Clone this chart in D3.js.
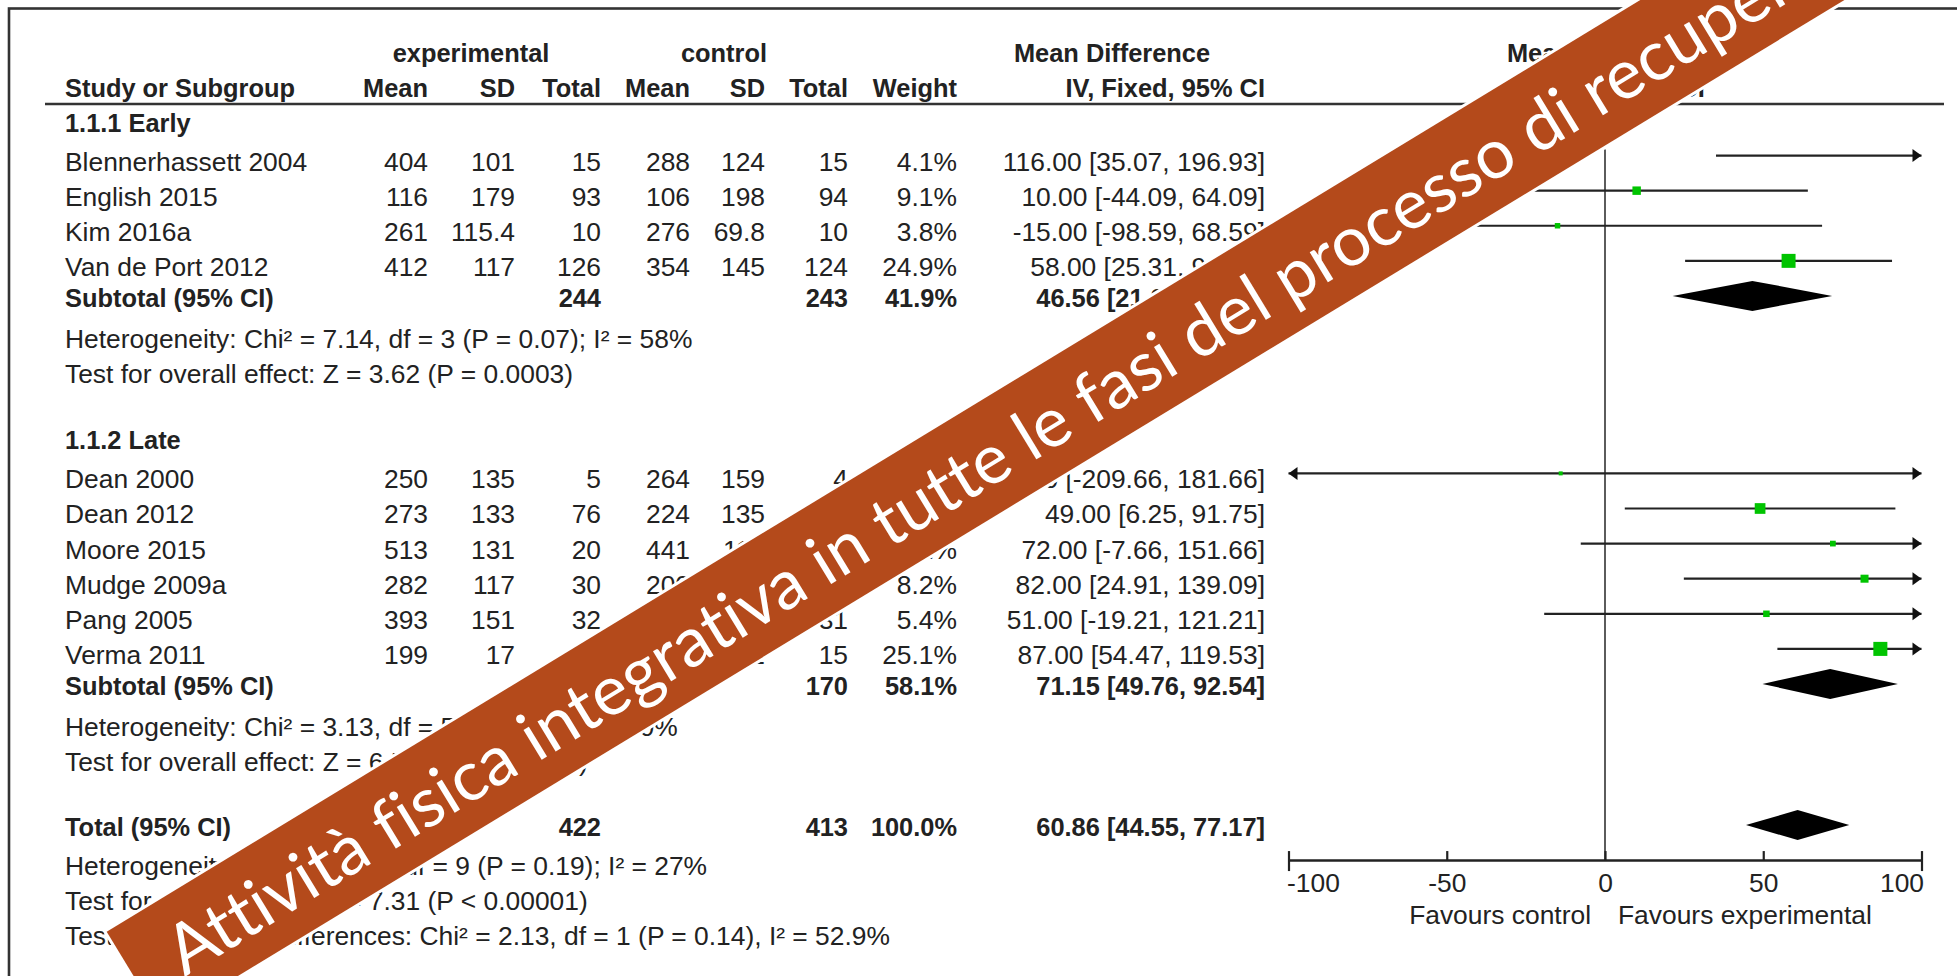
<!DOCTYPE html>
<html>
<head>
<meta charset="utf-8">
<script src="https://cdn.jsdelivr.net/npm/d3@7"></script>
<style>
  html, body { margin: 0; padding: 0; background: #fff; overflow: hidden; }
  svg { display: block; }
</style>
</head>
<body>
<svg id="chart" width="1957" height="976"></svg>
<script>
// ---- Subgroup 1.1.1 Early ----
const earlyStudy   = ["Blennerhassett 2004", "English 2015", "Kim 2016a", "Van de Port 2012"];
const earlyExpMean = [404, 116, 261, 412];
const earlyExpSD   = [101, 179, 115.4, 117];
const earlyExpN    = [15, 93, 10, 126];
const earlyCtlMean = [288, 106, 276, 354];
const earlyCtlSD   = [124, 198, 69.8, 145];
const earlyCtlN    = [15, 94, 10, 124];
const earlyWeight  = [4.1, 9.1, 3.8, 24.9];
const earlyMD      = [116.00, 10.00, -15.00, 58.00];
const earlyLow     = [35.07, -44.09, -98.59, 25.31];
const earlyHigh    = [196.93, 64.09, 68.59, 90.69];

// ---- Subgroup 1.1.2 Late ----
const lateStudy   = ["Dean 2000", "Dean 2012", "Moore 2015", "Mudge 2009a", "Pang 2005", "Verma 2011"];
const lateExpMean = [250, 273, 513, 282, 393, 199];
const lateExpSD   = [135, 133, 131, 117, 151, 17];
const lateExpN    = [5, 76, 20, 30, 32, 15];
const lateCtlMean = [264, 224, 441, 200, 342, 112];
const lateCtlSD   = [159, 135, 116, 105, 133, 62];
const lateCtlN    = [4, 75, 17, 28, 31, 15];
const lateWeight  = [0.7, 14.6, 4.2, 8.2, 5.4, 25.1];
const lateMD      = [-14.00, 49.00, 72.00, 82.00, 51.00, 87.00];
const lateLow     = [-209.66, 6.25, -7.66, 24.91, -19.21, 54.47];
const lateHigh    = [181.66, 91.75, 151.66, 139.09, 121.21, 119.53];

// ---- Subtotals ----
const subgroupTitle  = ["1.1.1 Early", "1.1.2 Late"];
const subtotalExpN   = [244, 178];
const subtotalCtlN   = [243, 170];
const subtotalWeight = [41.9, 58.1];
const subtotalMD     = [46.56, 71.15];
const subtotalLow    = [21.35, 49.76];
const subtotalHigh   = [71.77, 92.54];
const subgroupHet    = ["Heterogeneity: Chi\u00b2 = 7.14, df = 3 (P = 0.07); I\u00b2 = 58%",
                        "Heterogeneity: Chi\u00b2 = 3.13, df = 5 (P = 0.68); I\u00b2 = 0%"];
const subgroupTest   = ["Test for overall effect: Z = 3.62 (P = 0.0003)",
                        "Test for overall effect: Z = 6.52 (P < 0.00001)"];

// ---- Overall ----
const totalExpN   = [422];
const totalCtlN   = [413];
const totalWeight = [100.0];
const totalMD     = [60.86];
const totalLow    = [44.55];
const totalHigh   = [77.17];
const totalNotes  = ["Heterogeneity: Chi\u00b2 = 12.40, df = 9 (P = 0.19); I\u00b2 = 27%",
                     "Test for overall effect: Z = 7.31 (P < 0.00001)",
                     "Test for subgroup differences: Chi\u00b2 = 2.13, df = 1 (P = 0.14), I\u00b2 = 52.9%"];

// ---- Axis ----
const axisTicks    = [-100, -50, 0, 50, 100];
const favourLabels = ["Favours control", "Favours experimental"];
const bannerText   = "Attivit\u00e0 fisica integrativa in tutte le fasi del processo di recupero";

// ================= drawing =================
const svg = d3.select("#chart");
const FONT = "'Liberation Sans', Arial, Helvetica, sans-serif";
const INK = "#222";
const FS_REG = 26.4, FS_BOLD = 25.4;

// plain hyphen for negative numbers
const fmt2 = v => (v < 0 ? "-" : "") + Math.abs(v).toFixed(2);
const fmtW = w => w.toFixed(1) + "%";
const fmtCI = (m, lo, hi) => `${fmt2(m)} [${fmt2(lo)}, ${fmt2(hi)}]`;

// column right edges of the table
const col = { study: 65, expMean: 428, expSD: 515, expN: 601, ctlMean: 690, ctlSD: 765,
              ctlN: 848, weight: 957, md: 1265 };

function txt(g, x, y, s, anchor = "start", bold = false) {
  return g.append("text")
    .attr("x", x).attr("y", y)
    .attr("text-anchor", anchor)
    .attr("fill", INK)
    .style("font-family", FONT)
    .style("font-size", (bold ? FS_BOLD : FS_REG) + "px")
    .style("font-weight", bold ? "bold" : "normal")
    .text(s);
}

// frame (top and left edges visible)
svg.append("rect").attr("x", 9).attr("y", 8.5).attr("width", 2000).attr("height", 1000)
  .attr("fill", "none").attr("stroke", "#333").attr("stroke-width", 2.6);

// ---- build row sequence ----
const rows = [];
function addGroup(i, names, em, es, en, cm, cs, cn, w, md, lo, hi) {
  rows.push({ type: "group", label: subgroupTitle[i] });
  names.forEach((n, k) => rows.push({ type: "study", label: n,
    cells: [em[k], es[k], en[k], cm[k], cs[k], cn[k]], weight: w[k], md: md[k], lo: lo[k], hi: hi[k] }));
  rows.push({ type: "subtotal", label: "Subtotal (95% CI)", en: subtotalExpN[i], cn: subtotalCtlN[i],
    weight: subtotalWeight[i], md: subtotalMD[i], lo: subtotalLow[i], hi: subtotalHigh[i] });
  rows.push({ type: "note1", label: subgroupHet[i] });
  rows.push({ type: "note", label: subgroupTest[i] });
}
addGroup(0, earlyStudy, earlyExpMean, earlyExpSD, earlyExpN, earlyCtlMean, earlyCtlSD, earlyCtlN,
         earlyWeight, earlyMD, earlyLow, earlyHigh);
addGroup(1, lateStudy, lateExpMean, lateExpSD, lateExpN, lateCtlMean, lateCtlSD, lateCtlN,
         lateWeight, lateMD, lateLow, lateHigh);
rows.push({ type: "total", label: "Total (95% CI)", en: totalExpN[0], cn: totalCtlN[0],
  weight: totalWeight[0], md: totalMD[0], lo: totalLow[0], hi: totalHigh[0] });
totalNotes.forEach((s, k) => rows.push({ type: k === 0 ? "note1" : "note", label: s }));

// vertical spacing (in text lines) before each row type
function gap(prev, cur) {
  if (!prev) return 1.0;
  if (cur === "group") return 1.9;
  if (cur === "study") return prev === "group" ? 1.11 : 1.0;
  if (cur === "subtotal") return 0.885;
  if (cur === "note1") return prev === "total" ? 1.12 : 1.17;
  if (cur === "note") return 0.99;
  if (cur === "total") return 1.86;
  return 1;
}
let u = 0;
rows.forEach((r, i) => { u += gap(i ? rows[i - 1].type : null, r.type); r.line = u; });

const yLine = d3.scaleLinear().domain([0, 1]).range([96.5, 96.5 + 35.1]);
const x = d3.scaleLinear().domain([-100, 100]).range([1288.5, 1921.5]);

// ---- headers ----
const head = svg.append("g");
txt(head, 471, 62, "experimental", "middle", true);
txt(head, 724, 62, "control", "middle", true);
txt(head, 1112, 62, "Mean Difference", "middle", true);
txt(head, x(0), 62, "Mean Difference", "middle", true);
txt(head, col.study, yLine(0), "Study or Subgroup", "start", true);
[["Mean", col.expMean], ["SD", col.expSD], ["Total", col.expN], ["Mean", col.ctlMean],
 ["SD", col.ctlSD], ["Total", col.ctlN], ["Weight", col.weight], ["IV, Fixed, 95% CI", col.md]]
  .forEach(([s, cx]) => txt(head, cx, yLine(0), s, "end", true));
txt(head, x(0), yLine(0), "IV, Fixed, 95% CI", "middle", true);
svg.append("line").attr("x1", 45).attr("x2", 1944).attr("y1", 104).attr("y2", 104)
  .attr("stroke", "#333").attr("stroke-width", 2.6);

// ---- table text ----
const tbl = svg.append("g");
rows.forEach(r => {
  const y = yLine(r.line);
  const bold = r.type === "group" || r.type === "subtotal" || r.type === "total";
  txt(tbl, col.study, y, r.label, "start", bold);
  if (r.type === "study") {
    const xs = [col.expMean, col.expSD, col.expN, col.ctlMean, col.ctlSD, col.ctlN];
    r.cells.forEach((v, k) => txt(tbl, xs[k], y, String(v), "end"));
    txt(tbl, col.weight, y, fmtW(r.weight), "end");
    txt(tbl, col.md, y, fmtCI(r.md, r.lo, r.hi), "end");
  }
  if (r.type === "subtotal" || r.type === "total") {
    txt(tbl, col.expN, y, String(r.en), "end", true);
    txt(tbl, col.ctlN, y, String(r.cn), "end", true);
    txt(tbl, col.weight, y, fmtW(r.weight), "end", true);
    txt(tbl, col.md, y, fmtCI(r.md, r.lo, r.hi), "end", true);
  }
});

// ---- forest plot ----
const plot = svg.append("g");
const studyRows = rows.filter(r => r.type === "study");
const poolRows = rows.filter(r => r.type === "subtotal" || r.type === "total");
const totalRow = rows.find(r => r.type === "total");
const axisY = yLine(totalRow.line) + 24;
const zeroTop = yLine(studyRows[0].line) - 21;

plot.append("line").attr("x1", x(0)).attr("x2", x(0)).attr("y1", zeroTop).attr("y2", axisY)
  .attr("stroke", "#333").attr("stroke-width", 1.6);

const [dMin, dMax] = x.domain();
studyRows.forEach(r => {
  const y = yLine(r.line) - 15;
  const lo = Math.max(r.lo, dMin), hi = Math.min(r.hi, dMax);
  plot.append("line").attr("x1", x(lo)).attr("x2", x(hi)).attr("y1", y).attr("y2", y)
    .attr("stroke", "#222").attr("stroke-width", 2.2);
  if (r.hi > dMax) {
    plot.append("path").attr("d", `M${x(dMax)},${y} L${x(dMax) - 9},${y - 6.5} L${x(dMax) - 9},${y + 6.5} Z`)
      .attr("fill", "#111");
  }
  if (r.lo < dMin) {
    plot.append("path").attr("d", `M${x(dMin)},${y} L${x(dMin) + 9},${y - 6.5} L${x(dMin) + 9},${y + 6.5} Z`)
      .attr("fill", "#111");
  }
  // square area follows the study weight
  const s = Math.max(4, 2.8 * Math.sqrt(r.weight));
  plot.append("rect").attr("x", x(r.md) - s / 2).attr("y", y - s / 2)
    .attr("width", s).attr("height", s).attr("fill", "#00c400");
});

poolRows.forEach(r => {
  const y = yLine(r.line) - 11;
  plot.append("path")
    .attr("d", `M${x(r.lo)},${y} L${x(r.md)},${y - 15} L${x(r.hi)},${y} L${x(r.md)},${y + 15} Z`)
    .attr("fill", "#000");
});

// ---- axis ----
const axisG = plot.append("g").attr("transform", `translate(0,${axisY})`)
  .call(d3.axisBottom(x).tickValues(axisTicks).tickFormat(d3.format("d"))
    .tickSizeInner(-9).tickSizeOuter(0).tickPadding(13.5));
axisG.select(".domain").attr("stroke", "#222").attr("stroke-width", 2.4);
axisG.selectAll(".tick line").attr("stroke", "#222").attr("stroke-width", 2.2);
axisG.selectAll(".tick")
  .filter(d => d === dMin || d === dMax)
  .select("line").attr("y1", -9).attr("y2", 11);
axisG.selectAll(".tick text")
  .attr("fill", INK)
  .style("font-family", FONT).style("font-size", FS_REG + "px")
  .attr("text-anchor", d => d === dMin ? "start" : d === dMax ? "end" : "middle")
  .attr("dx", d => d === dMin ? -2 : d === dMax ? 2 : 0)
  .text(d => d < 0 ? "-" + Math.abs(d) : String(d));

txt(plot, x(0) - 14, axisY + 63.5, favourLabels[0], "end");
txt(plot, x(0) + 13, axisY + 63.5, favourLabels[1], "start");

// ---- diagonal banner ----
const banner = svg.append("g").attr("transform", "translate(106.7,931.7) rotate(-31.28)");
banner.append("rect").attr("x", 0).attr("y", 0).attr("width", 2400).attr("height", 106)
  .attr("fill", "#fff").attr("stroke", "#fff").attr("stroke-width", 6);
banner.append("rect").attr("x", 0).attr("y", 0).attr("width", 2400).attr("height", 106)
  .attr("fill", "#b44a1b");
banner.append("text").attr("x", 43).attr("y", 79)
  .attr("fill", "#fff")
  .attr("textLength", 1925)
  .attr("lengthAdjust", "spacingAndGlyphs")
  .style("font-family", "Lato, 'Open Sans', sans-serif")
  .style("font-size", "69px")
  .style("font-variant-ligatures", "none")
  .text(bannerText);
</script>
</body>
</html>
